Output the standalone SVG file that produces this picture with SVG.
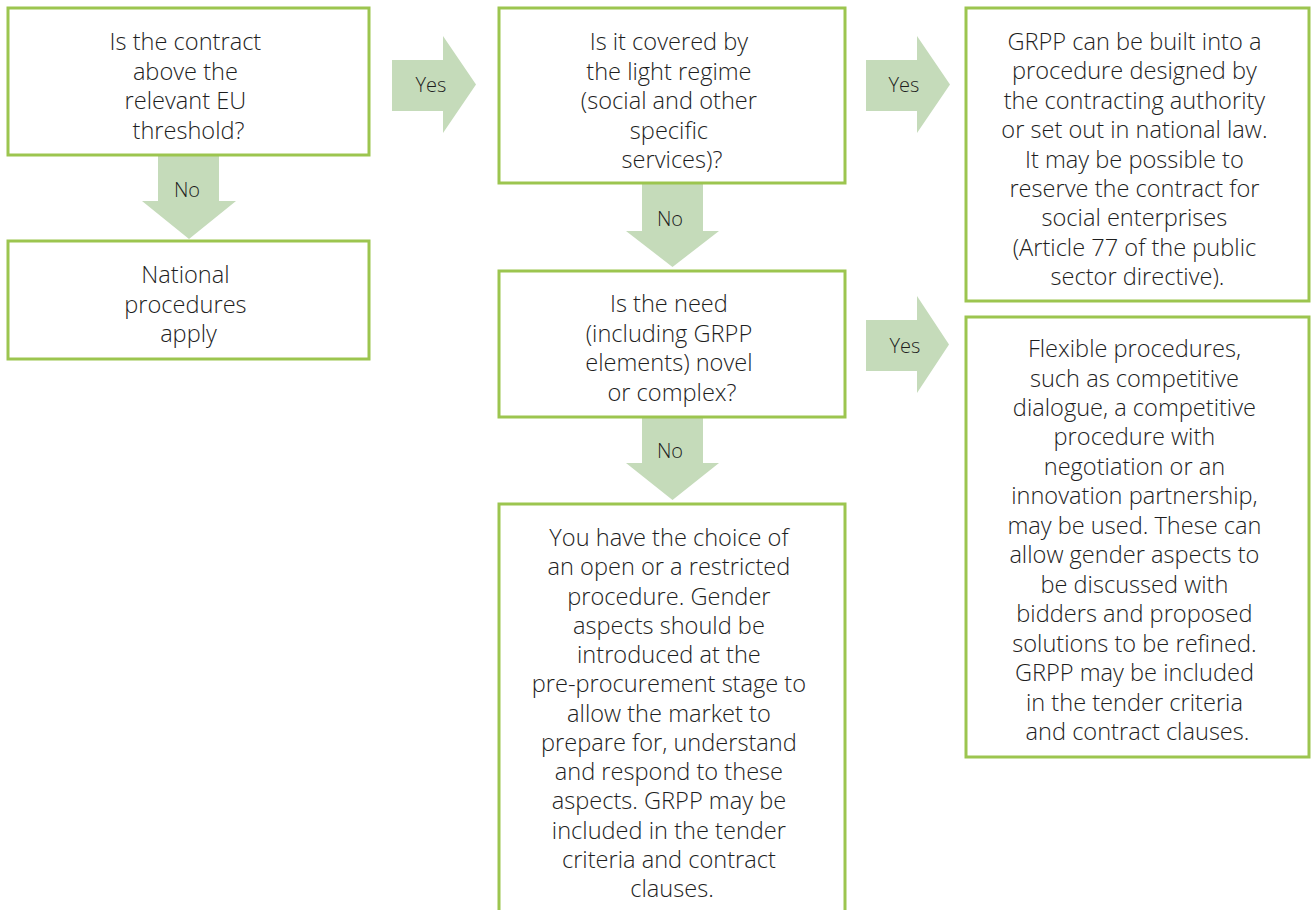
<svg xmlns="http://www.w3.org/2000/svg" width="1311" height="910" viewBox="0 0 1311 910">
  <style>
    .box { fill: #ffffff; stroke: #9cc54f; stroke-width: 3; }
    .arrow { fill: #c5dbba; stroke: none; }
    .txt { font-family: "Open Sans", "Liberation Sans", sans-serif; font-weight: 300; font-size: 23.6px; fill: #1e1e1e; text-anchor: middle; }
    .lbl { font-family: "Open Sans", "Liberation Sans", sans-serif; font-weight: 300; font-size: 20px; fill: #1e1e1e; text-anchor: middle; }
  </style>

  <!-- flow arrows -->
  <g id="connectors">
    <polygon class="arrow" points="158,155 219,155 219,201 236,201 189,239 142,201 158,201"/>
    <text class="lbl" x="187" y="197">No</text>
    <polygon class="arrow" points="392,60 443,60 443,36 476,84.5 443,133 443,111 392,111"/>
    <text class="lbl" x="431" y="92">Yes</text>
    <polygon class="arrow" points="642,184 703,184 703,231 719,231 672.5,267 626,231 642,231"/>
    <text class="lbl" x="670" y="226">No</text>
    <polygon class="arrow" points="642,417 703,417 703,463 719,463 672.5,500 626,463 642,463"/>
    <text class="lbl" x="670" y="458">No</text>
    <polygon class="arrow" points="866,60 917,60 917,36 950,84.5 917,133 917,111 866,111"/>
    <text class="lbl" x="904" y="92">Yes</text>
    <polygon class="arrow" points="866,320 917,320 917,296 949,344.5 917,393 917,371 866,371"/>
    <text class="lbl" x="905" y="353">Yes</text>
  </g>

  <g id="threshold">
    <rect class="box" x="8" y="8" width="361" height="147"/>
    <text class="txt">
      <tspan x="188.5" y="50">Is the contract</tspan>
      <tspan x="188.5" y="79.5">above the</tspan>
      <tspan x="188.5" y="109">relevant EU</tspan>
      <tspan x="188.5" y="138.5">threshold?</tspan>
    </text>
  </g>

  <g id="national">
    <rect class="box" x="8" y="241" width="361" height="118"/>
    <text class="txt">
      <tspan x="188.5" y="283">National</tspan>
      <tspan x="188.5" y="312.5">procedures</tspan>
      <tspan x="188.5" y="342">apply</tspan>
    </text>
  </g>

  <g id="light-regime">
    <rect class="box" x="499" y="8" width="346" height="175"/>
    <text class="txt">
      <tspan x="672" y="50">Is it covered by</tspan>
      <tspan x="672" y="79.5">the light regime</tspan>
      <tspan x="672" y="109">(social and other</tspan>
      <tspan x="672" y="138.5">specific</tspan>
      <tspan x="672" y="168">services)?</tspan>
    </text>
  </g>

  <g id="novel">
    <rect class="box" x="499" y="271" width="346" height="146"/>
    <text class="txt">
      <tspan x="672" y="312">Is the need</tspan>
      <tspan x="672" y="341.5">(including GRPP</tspan>
      <tspan x="672" y="371">elements) novel</tspan>
      <tspan x="672" y="400.5">or complex?</tspan>
    </text>
  </g>

  <g id="open-restricted">
    <rect class="box" x="499" y="504" width="346" height="420"/>
    <text class="txt">
      <tspan x="672" y="546">You have the choice of</tspan>
      <tspan x="672" y="575.3">an open or a restricted</tspan>
      <tspan x="672" y="604.5">procedure. Gender</tspan>
      <tspan x="672" y="633.8">aspects should be</tspan>
      <tspan x="672" y="663">introduced at the</tspan>
      <tspan x="672" y="692.3">pre-procurement stage to</tspan>
      <tspan x="672" y="721.5">allow the market to</tspan>
      <tspan x="672" y="750.8">prepare for, understand</tspan>
      <tspan x="672" y="780">and respond to these</tspan>
      <tspan x="672" y="809.3">aspects. GRPP may be</tspan>
      <tspan x="672" y="838.5">included in the tender</tspan>
      <tspan x="672" y="867.8">criteria and contract</tspan>
      <tspan x="672" y="897">clauses.</tspan>
    </text>
  </g>

  <g id="national-law">
    <rect class="box" x="966" y="8" width="343" height="293"/>
    <text class="txt">
      <tspan x="1137.5" y="50">GRPP can be built into a</tspan>
      <tspan x="1137.5" y="79.4">procedure designed by</tspan>
      <tspan x="1137.5" y="108.8">the contracting authority</tspan>
      <tspan x="1137.5" y="138.2">or set out in national law.</tspan>
      <tspan x="1137.5" y="167.6">It may be possible to</tspan>
      <tspan x="1137.5" y="197">reserve the contract for</tspan>
      <tspan x="1137.5" y="226.4">social enterprises</tspan>
      <tspan x="1137.5" y="255.8">(Article 77 of the public</tspan>
      <tspan x="1137.5" y="285.2">sector directive).</tspan>
    </text>
  </g>

  <g id="flexible">
    <rect class="box" x="966" y="317" width="343" height="440"/>
    <text class="txt">
      <tspan x="1137.5" y="357">Flexible procedures,</tspan>
      <tspan x="1137.5" y="386.5">such as competitive</tspan>
      <tspan x="1137.5" y="415.9">dialogue, a competitive</tspan>
      <tspan x="1137.5" y="445.4">procedure with</tspan>
      <tspan x="1137.5" y="474.8">negotiation or an</tspan>
      <tspan x="1137.5" y="504.3">innovation partnership,</tspan>
      <tspan x="1137.5" y="533.8">may be used. These can</tspan>
      <tspan x="1137.5" y="563.2">allow gender aspects to</tspan>
      <tspan x="1137.5" y="592.7">be discussed with</tspan>
      <tspan x="1137.5" y="622.1">bidders and proposed</tspan>
      <tspan x="1137.5" y="651.6">solutions to be refined.</tspan>
      <tspan x="1137.5" y="681.1">GRPP may be included</tspan>
      <tspan x="1137.5" y="710.5">in the tender criteria</tspan>
      <tspan x="1137.5" y="740">and contract clauses.</tspan>
    </text>
  </g>
</svg>
